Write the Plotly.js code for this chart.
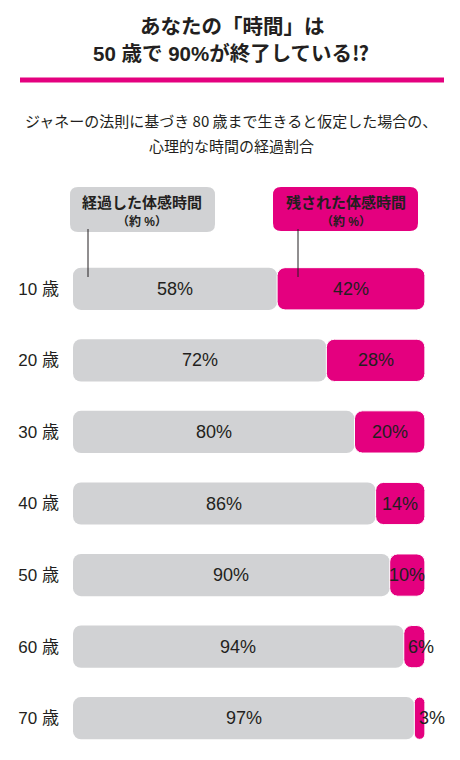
<!DOCTYPE html>
<html>
<head>
<meta charset="utf-8">
<script src="https://cdn.plot.ly/plotly-3.0.1.min.js"></script>
<style>
  html, body { margin: 0; padding: 0; background: #fff; }
  #chart { width: 460px; height: 760px; }
</style>
</head>
<body>
<div id="chart"></div>
<script>
// data
const ageLabels = ['10 歳', '20 歳', '30 歳', '40 歳', '50 歳', '60 歳', '70 歳'];
const elapsed = [58, 72, 80, 86, 90, 94, 97];     // 経過した体感時間
const remaining = [42, 28, 20, 14, 10, 6, 3];     // 残された体感時間

const PINK = '#e4007f';
const GRAY = '#d1d2d4';
const INK = '#231f20';
const FONT = 'Liberation Sans, Noto Sans CJK JP, sans-serif';
const JP = 'Noto Sans CJK JP, sans-serif';

// plot area in pixels (x range runs a bit past 100 so small labels can sit outside)
const W = 460, H = 760;
const M = { l: 73, r: 14, t: 253, b: 6 };
const pw = W - M.l - M.r, ph = H - M.t - M.b;
function px(x) { return (x - M.l) / pw; }
function py(y) { return 1 - (y - M.t) / ph; }

// rounded box in paper coords, from pixel corners
function roundBox(x0, y0, x1, y1, r, color) {
    const p = (x, y) => px(x) + ',' + py(y);
    const path = 'M' + p(x0 + r, y0) + ' L' + p(x1 - r, y0) + ' Q' + p(x1, y0) + ' ' + p(x1, y0 + r) +
        ' L' + p(x1, y1 - r) + ' Q' + p(x1, y1) + ' ' + p(x1 - r, y1) +
        ' L' + p(x0 + r, y1) + ' Q' + p(x0, y1) + ' ' + p(x0, y1 - r) +
        ' L' + p(x0, y0 + r) + ' Q' + p(x0, y0) + ' ' + p(x0 + r, y0) + ' Z';
    return { type: 'path', xref: 'paper', yref: 'paper', path: path, fillcolor: color, line: { width: 0 }, layer: 'below' };
}

// base is set on both traces so plotly rounds all four corners
function seg(base, len, color, edge) {
    return {
        type: 'bar', orientation: 'h', y: ageLabels, base: base, x: len,
        width: 0.59, marker: { color: color, line: { width: edge, color: '#fff' } },
        hoverinfo: 'skip', showlegend: false
    };
}

const data = [
    seg(elapsed.map(() => 0), elapsed, GRAY, 0),
    seg(elapsed, remaining, PINK, 1)
];

let annotations = [];
ageLabels.forEach((a, i) => {
    annotations.push({
        x: elapsed[i] / 2, y: a, xref: 'x', yref: 'y', text: elapsed[i] + '%', showarrow: false,
        font: { family: FONT, size: 18, color: INK }
    });
    annotations.push({
        x: Math.max(elapsed[i] + remaining[i] / 2, elapsed[i] + 5), y: a, xref: 'x', yref: 'y',
        text: remaining[i] + '%', showarrow: false,
        font: { family: FONT, size: 18, color: INK }
    });
});

function txt(text, x, y, size, bold) {
    return {
        xref: 'paper', yref: 'paper', x: px(x), y: py(y), xanchor: 'center', yanchor: 'middle',
        text: bold ? '<b>' + text + '</b>' : text, showarrow: false,
        font: { family: bold ? FONT : JP, size: size, color: INK }
    };
}

// titles
annotations.push(txt('あなたの「時間」は', 232, 26, 20.5, true));
annotations.push(txt('50 歳で 90%が終了している⁉', 231, 53, 20.5, true));
annotations.push(txt('ジャネーの法則に基づき 80 歳まで生きると仮定した場合の、', 231, 121, 15, false));
annotations.push(txt('心理的な時間の経過割合', 231, 145, 15, false));
// legend boxes text
annotations.push(txt('経過した体感時間', 142, 202, 15, true));
annotations.push(txt('（約 %）', 142, 222, 12, true));
annotations.push(txt('残された体感時間', 346, 202, 15, true));
annotations.push(txt('（約 %）', 346, 222, 12, true));

const shapes = [
    { type: 'line', xref: 'paper', yref: 'paper', x0: px(20), x1: px(444), y0: py(80), y1: py(80), line: { color: PINK, width: 5 } },
    roundBox(70, 187, 215, 232, 8, GRAY),
    roundBox(273, 187, 418, 231, 8, PINK),
    { type: 'line', xref: 'paper', yref: 'paper', x0: px(88), x1: px(88), y0: py(229), y1: py(277), line: { color: INK, width: 1 } },
    { type: 'line', xref: 'paper', yref: 'paper', x0: px(298), x1: px(298), y0: py(229), y1: py(277), line: { color: INK, width: 1 } }
];

const layout = {
    width: W, height: H,
    margin: M,
    paper_bgcolor: '#fff', plot_bgcolor: '#fff',
    barmode: 'overlay',
    barcornerradius: 8,
    showlegend: false,
    xaxis: { range: [0, 106], visible: false, fixedrange: true },
    yaxis: {
        type: 'category', range: [6.5, -0.5], showgrid: false, zeroline: false, showline: false,
        ticks: '', ticklabelstandoff: 13, tickfont: { family: FONT, size: 17, color: INK }, fixedrange: true
    },
    annotations: annotations,
    shapes: shapes
};

Plotly.newPlot('chart', data, layout, { displayModeBar: false, staticPlot: true });
</script>
</body>
</html>
